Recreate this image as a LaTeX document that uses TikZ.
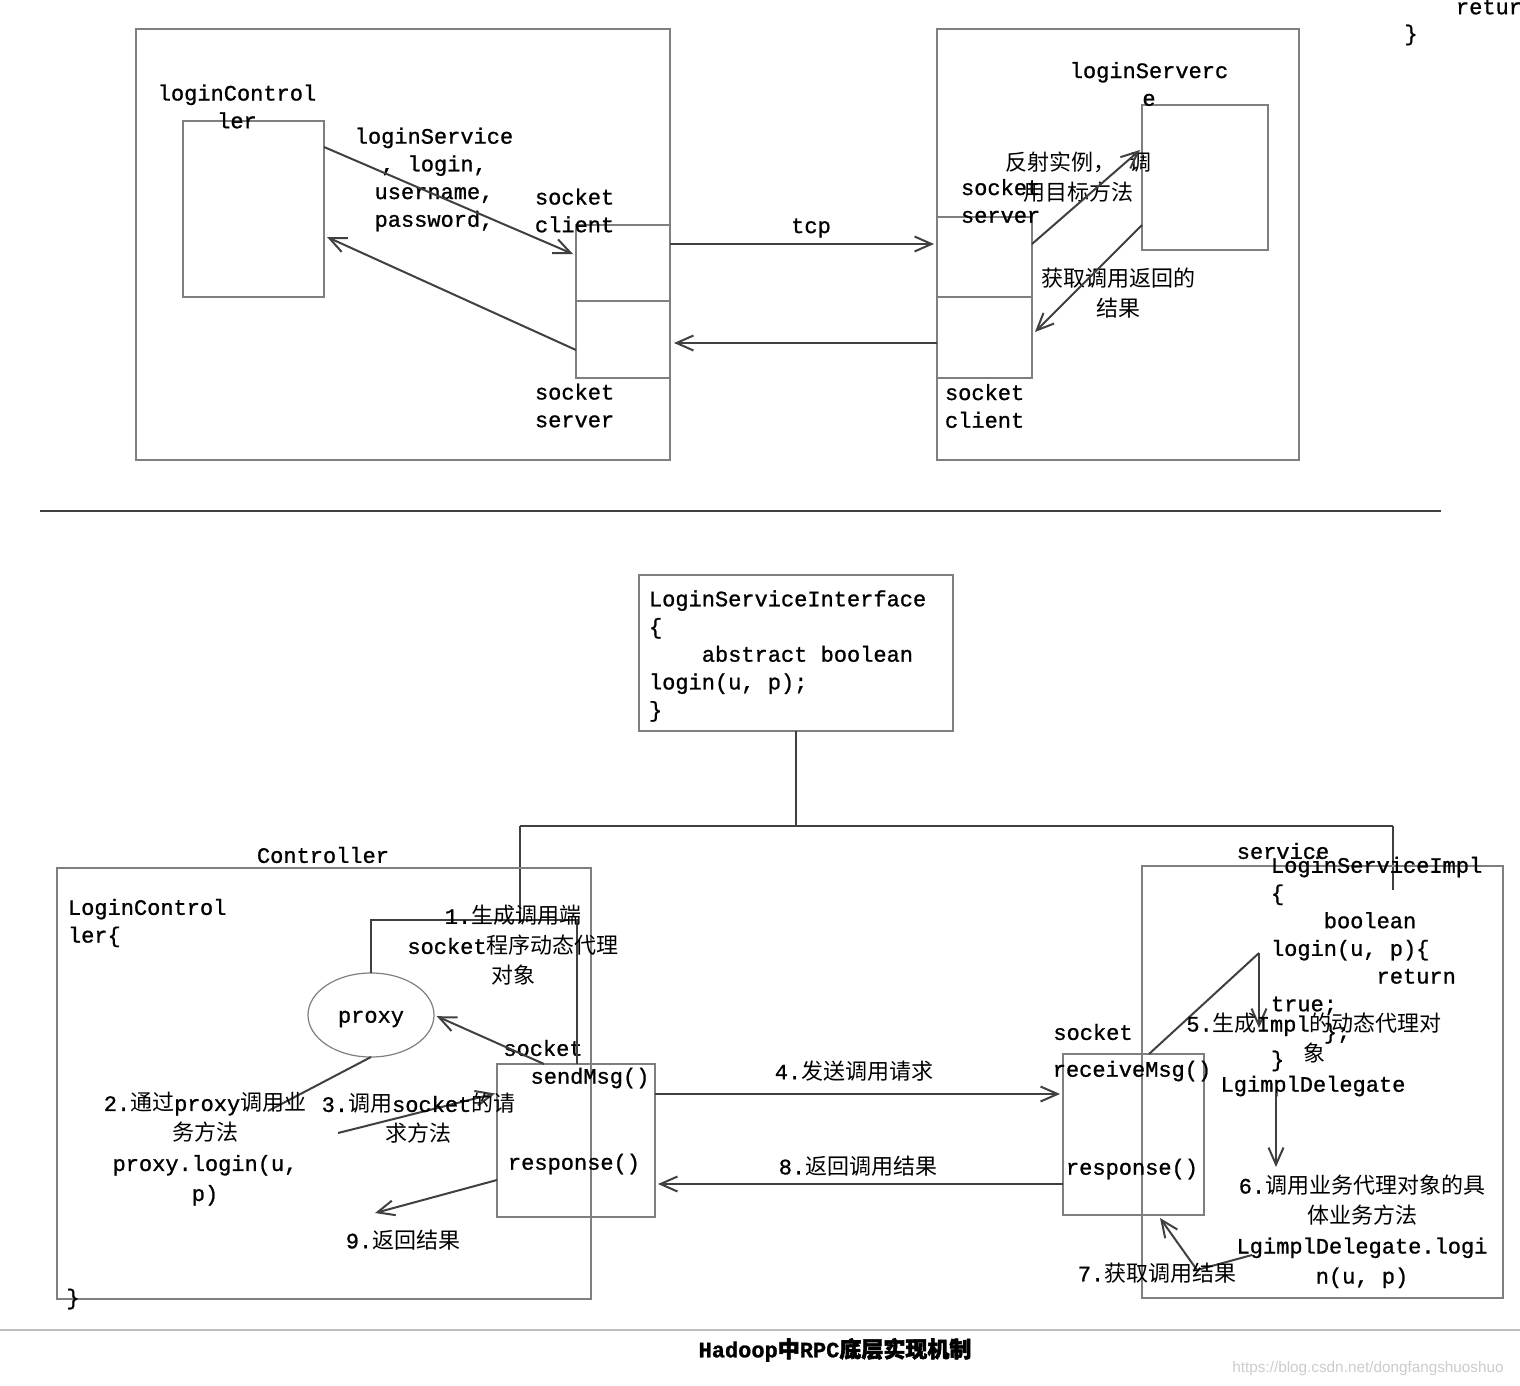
\documentclass[tikz,border=0pt]{standalone}
\usepackage{fontspec}
\setmainfont[FakeBold=1]{Liberation Mono}
\newfontfamily\zhf{Noto Sans CJK SC}
\newfontfamily\zhbf[FakeBold=2.5]{Noto Sans CJK SC}
\newfontfamily\wmf{Liberation Sans}
\newcommand\zh[1]{{\zhf #1}}
\usetikzlibrary{arrows.meta,shapes.geometric,calc}
\definecolor{bxc}{HTML}{7F7F7F}
\definecolor{cnc}{HTML}{404040}
\newcommand\bx[5]{\node[box, minimum width=#4pt, minimum height=#5pt] (#1) at (#2,#3) {};}
\begin{document}
\begin{tikzpicture}[x=1pt,y=-1pt,
  every node/.style={font=\fontsize{22}{27.7}\selectfont, inner sep=0pt, outer sep=0pt},
  box/.style={draw=bxc, line width=1.2pt, anchor=north west},
  conn/.style={draw=cnc, line width=2pt},
  arr/.style={conn, -{Straight Barb[length=17pt,width=15pt]}},
  txt/.style={align=center},
  ltxt/.style={align=left, anchor=west},
  zhtxt/.style={align=center, font=\fontsize{22}{30}\selectfont}]
\useasboundingbox (0,0) rectangle (1520,1386);
\fill[white] (0,0) rectangle (1520,1386);
% ---------------- top part ----------------
\bx{L}{136}{29}{534}{431}
\bx{LC}{183}{121}{141}{176}
\bx{SC1}{576}{225}{94}{76}
\bx{SC2}{576}{301}{94}{77}
\bx{R}{937}{29}{362}{431}
\bx{SS1}{937}{217}{95}{80}
\bx{SS2}{937}{297}{95}{81}
\bx{LS}{1142}{105}{126}{145}
\node[txt] (lcl) at (237,106.5) {loginControl\\ler};
\node[txt] (lsv) at (434,179.5) {loginService\\, login,\\username,\\password,};
\node[ltxt] (scl) at (535,210.5) {socket\\client};
\node[ltxt] (ssl) at (535,405.5) {socket\\server};
\node (tcp) at (811,228) {tcp};
\node[txt] (lsl) at (1149,84) {loginServerc\\e};
\node[ltxt] (ssr) at (961,201) {socket\\server};
\node[ltxt] (scr) at (945,406) {socket\\client};
\node[zhtxt] (fs) at (1078,177) {\zh{反射实例，\hspace{14pt}调}\\\zh{用目标方法}};
\node[zhtxt] (hq) at (1118,293) {\zh{获取调用返回的}\\\zh{结果}};
\node[anchor=west] (ret) at (1456,7) {retur};
\node (rbr) at (1411,35) {\}};
\draw[arr] ([yshift=-26pt]LC.north east) -- ([xshift=-3pt,yshift=9pt]SC1.west);
\draw[arr] ([yshift=-10.5pt]SC2.west) -- ([xshift=3pt,yshift=-28pt]LC.east);
\coordinate (t1) at ([yshift=19pt]SC1.east);
\draw[arr, shorten >=3pt] (t1) -- (t1 -| SS1.west);
\coordinate (t2) at ([yshift=-5.5pt]SS2.west);
\draw[arr, shorten >=4pt] (t2) -- (t2 -| SC2.east);
\draw[arr] ([yshift=13pt]SS1.east) -- ([xshift=-2pt,yshift=27.5pt]LS.west);
\draw[arr] ([yshift=-47.5pt]LS.west) -- ([xshift=3pt,yshift=5.5pt]SS2.east);
% divider
\draw[draw=cnc, line width=2pt] (40,511) -- (1441,511);
% ---------------- bottom part ----------------
\bx{IF}{639}{575}{314}{156}
\node[ltxt] (ift) at (649,656) {LoginServiceInterface\\\{\\\phantom{xxxx}abstract boolean\\login(u, p);\\\}};
\coordinate (jl) at (520,826);
\coordinate (jr) at (1393,826);
\coordinate (k1) at (520,920);
\coordinate (k2) at (1393,890);
\draw[conn] (IF.south) -- (IF.south |- jl);
\draw[conn] (jl) -- (jr);
\draw[conn] (jl) -- (k1);
\draw[conn] (jr) -- (k2);
% controller
\node (ctl) at (323,855) {Controller};
\bx{C}{57}{868}{534}{431}
\node[ltxt] (lct) at (68,923) {LoginControl\\ler\{};
\node (cbr) at (73,1299) {\}};
\node[ellipse, draw=bxc, line width=1.2pt, minimum width=126pt, minimum height=84pt] (proxy) at (371,1015) {};
\node (pxt) at (371,1019) {proxy};
\bx{SB}{497}{1064}{158}{153}
\node (sk1) at (543,1048) {socket};
\node (sm) at (590,1078) {sendMsg()};
\node (rs1) at (574,1164) {response()};
\coordinate (k3) at (577,920);
\draw[conn] (proxy.north) |- (k3) -- (k3 |- SB.north);
\draw[arr, shorten >=3pt] ([xshift=-32pt]SB.north) -- (proxy.east);
\coordinate (e2) at (268,1111);
\draw[conn] (proxy.south) -- (e2);
\coordinate (s3) at (338,1133);
\draw[arr, shorten >=2pt] (s3) -- ([yshift=47.5pt]SB.west);
\coordinate (e9) at (375,1213);
\draw[arr] ([yshift=-39.5pt]SB.west) -- (e9);
\node[zhtxt] (l1) at (513,945.5) {1.\zh{生成调用端}\\socket\zh{程序动态代理}\\\zh{对象}};
\node[zhtxt] (l2) at (205,1149) {2.\zh{通过}proxy\zh{调用业}\\\zh{务方法}\\proxy.login(u,\\p)};
\node[zhtxt] (l3) at (418.5,1118.5) {3.\zh{调用}socket\zh{的请}\\\zh{求方法}};
\node (l9) at (403,1240) {9.\zh{返回结果}};
% service
\node (svc) at (1283,851) {service};
\bx{S}{1142}{866}{361}{432}
\node[ltxt] (impl) at (1271,964) {LoginServiceImpl\\\{\\\phantom{xxxx}boolean\\login(u, p)\{\\\phantom{xxxxxxxx}return\\true;\\\phantom{xxxx}\};\\\}};
\bx{RB}{1063}{1054}{141}{161}
\node (sk2) at (1093,1032) {socket};
\node (rm) at (1132,1071) {receiveMsg()};
\node (rs2) at (1132,1169) {response()};
\coordinate (t4) at ([yshift=46.5pt]SB.east);
\draw[arr, shorten >=3pt] (t4) -- (t4 -| RB.west);
\node (l4) at (854,1071) {4.\zh{发送调用请求}};
\coordinate (t8) at ([yshift=-49.5pt]RB.west);
\draw[arr, shorten >=3pt] (t8) -- (t8 -| SB.east);
\node (l8) at (858,1166) {8.\zh{返回调用结果}};
\coordinate (c5) at (1259,953);
\coordinate (e5) at (1259,1028);
\draw[conn] ([xshift=15.5pt]RB.north) -- (c5);
\draw[arr] (c5) -- (e5);
\node[zhtxt] (l5) at (1314,1038) {5.\zh{生成}Impl\zh{的动态代理对}\\\zh{象}};
\node (ld) at (1313,1086) {LgimplDelegate};
\coordinate (s6) at (1276,1093);
\coordinate (e6) at (1276,1167);
\draw[arr] (s6) -- (e6);
\node[zhtxt] (l6) at (1362,1231.5) {6.\zh{调用业务代理对象的具}\\\zh{体业务方法}\\LgimplDelegate.logi\\n(u, p)};
\coordinate (s7) at (1252,1255);
\coordinate (m7) at (1197,1270);
\draw[arr] (s7) -- (m7) -- ([xshift=26.5pt,yshift=-3pt]RB.south);
\node (l7) at (1157,1273) {7.\zh{获取调用结果}};
% caption
\draw[draw=gray!50, line width=1.5pt] (0,1330) -- (1520,1330);
\node (title) at (835,1350) {\bfseries Hadoop{\zhbf 中}RPC{\zhbf 底层实现机制}};
\node[font=\wmf\fontsize{15.3}{18}\selectfont, text=gray!40] (wm) at (1368,1369) {https://blog.csdn.net/dongfangshuoshuo};
\end{tikzpicture}
\end{document}
